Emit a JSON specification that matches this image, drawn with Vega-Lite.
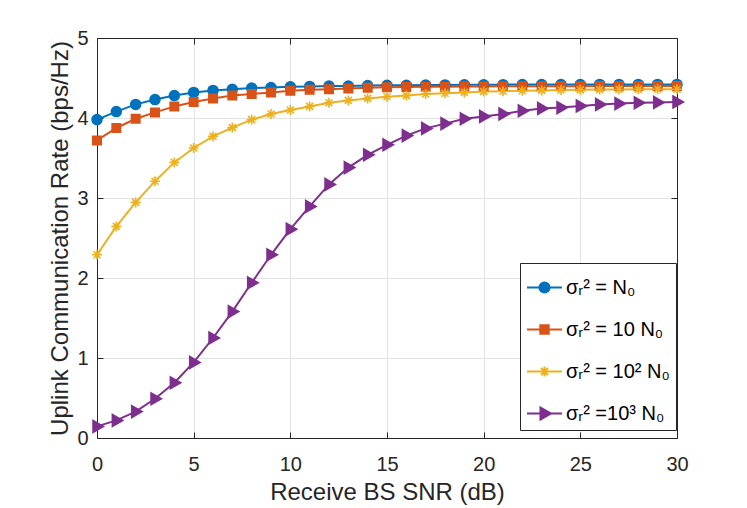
{
  "$schema": "https://vega.github.io/schema/vega-lite/v6.json",
  "autosize": "none",
  "width": 580,
  "height": 400,
  "padding": {"left": 97, "top": 38, "right": 70, "bottom": 70},
  "background": "white",
  "config": {
    "font": "Liberation Sans",
    "view": {"stroke": null},
    "axis": {
      "domainColor": "#262626",
      "tickColor": "#262626",
      "labelColor": "#262626",
      "titleColor": "#262626",
      "labelFont": "Liberation Sans",
      "titleFont": "Liberation Sans",
      "labelFontSize": 20,
      "titleFontSize": 24,
      "titleFontWeight": "normal",
      "labelFlush": false,
      "gridColor": "#e3e3e3",
      "gridOpacity": 1,
      "domainWidth": 1,
      "tickWidth": 1
    }
  },
  "data": {
    "values": [
      {"snr": 0, "rate": 3.98, "case": "N0"}, {"snr": 1, "rate": 4.08, "case": "N0"}, {"snr": 2, "rate": 4.17, "case": "N0"},
      {"snr": 3, "rate": 4.23, "case": "N0"}, {"snr": 4, "rate": 4.28, "case": "N0"}, {"snr": 5, "rate": 4.32, "case": "N0"},
      {"snr": 6, "rate": 4.345, "case": "N0"}, {"snr": 7, "rate": 4.36, "case": "N0"}, {"snr": 8, "rate": 4.375, "case": "N0"},
      {"snr": 9, "rate": 4.38, "case": "N0"}, {"snr": 10, "rate": 4.39, "case": "N0"}, {"snr": 11, "rate": 4.395, "case": "N0"},
      {"snr": 12, "rate": 4.40, "case": "N0"}, {"snr": 13, "rate": 4.40, "case": "N0"}, {"snr": 14, "rate": 4.405, "case": "N0"},
      {"snr": 15, "rate": 4.41, "case": "N0"}, {"snr": 16, "rate": 4.41, "case": "N0"}, {"snr": 17, "rate": 4.412, "case": "N0"},
      {"snr": 18, "rate": 4.414, "case": "N0"}, {"snr": 19, "rate": 4.415, "case": "N0"}, {"snr": 20, "rate": 4.416, "case": "N0"},
      {"snr": 21, "rate": 4.417, "case": "N0"}, {"snr": 22, "rate": 4.418, "case": "N0"}, {"snr": 23, "rate": 4.418, "case": "N0"},
      {"snr": 24, "rate": 4.419, "case": "N0"}, {"snr": 25, "rate": 4.419, "case": "N0"}, {"snr": 26, "rate": 4.42, "case": "N0"},
      {"snr": 27, "rate": 4.42, "case": "N0"}, {"snr": 28, "rate": 4.42, "case": "N0"}, {"snr": 29, "rate": 4.42, "case": "N0"},
      {"snr": 30, "rate": 4.42, "case": "N0"},
      {"snr": 0, "rate": 3.72, "case": "10N0"}, {"snr": 1, "rate": 3.875, "case": "10N0"}, {"snr": 2, "rate": 3.99, "case": "10N0"},
      {"snr": 3, "rate": 4.07, "case": "10N0"}, {"snr": 4, "rate": 4.145, "case": "10N0"}, {"snr": 5, "rate": 4.20, "case": "10N0"},
      {"snr": 6, "rate": 4.245, "case": "10N0"}, {"snr": 7, "rate": 4.28, "case": "10N0"}, {"snr": 8, "rate": 4.30, "case": "10N0"},
      {"snr": 9, "rate": 4.32, "case": "10N0"}, {"snr": 10, "rate": 4.34, "case": "10N0"}, {"snr": 11, "rate": 4.354, "case": "10N0"},
      {"snr": 12, "rate": 4.36, "case": "10N0"}, {"snr": 13, "rate": 4.37, "case": "10N0"}, {"snr": 14, "rate": 4.378, "case": "10N0"},
      {"snr": 15, "rate": 4.385, "case": "10N0"}, {"snr": 16, "rate": 4.388, "case": "10N0"}, {"snr": 17, "rate": 4.39, "case": "10N0"},
      {"snr": 18, "rate": 4.392, "case": "10N0"}, {"snr": 19, "rate": 4.394, "case": "10N0"}, {"snr": 20, "rate": 4.395, "case": "10N0"},
      {"snr": 21, "rate": 4.396, "case": "10N0"}, {"snr": 22, "rate": 4.397, "case": "10N0"}, {"snr": 23, "rate": 4.397, "case": "10N0"},
      {"snr": 24, "rate": 4.398, "case": "10N0"}, {"snr": 25, "rate": 4.398, "case": "10N0"}, {"snr": 26, "rate": 4.399, "case": "10N0"},
      {"snr": 27, "rate": 4.399, "case": "10N0"}, {"snr": 28, "rate": 4.40, "case": "10N0"}, {"snr": 29, "rate": 4.40, "case": "10N0"},
      {"snr": 30, "rate": 4.40, "case": "10N0"},
      {"snr": 0, "rate": 2.29, "case": "100N0"}, {"snr": 1, "rate": 2.645, "case": "100N0"}, {"snr": 2, "rate": 2.945, "case": "100N0"},
      {"snr": 3, "rate": 3.21, "case": "100N0"}, {"snr": 4, "rate": 3.445, "case": "100N0"}, {"snr": 5, "rate": 3.625, "case": "100N0"},
      {"snr": 6, "rate": 3.77, "case": "100N0"}, {"snr": 7, "rate": 3.88, "case": "100N0"}, {"snr": 8, "rate": 3.98, "case": "100N0"},
      {"snr": 9, "rate": 4.05, "case": "100N0"}, {"snr": 10, "rate": 4.10, "case": "100N0"}, {"snr": 11, "rate": 4.145, "case": "100N0"},
      {"snr": 12, "rate": 4.19, "case": "100N0"}, {"snr": 13, "rate": 4.22, "case": "100N0"}, {"snr": 14, "rate": 4.245, "case": "100N0"},
      {"snr": 15, "rate": 4.265, "case": "100N0"}, {"snr": 16, "rate": 4.28, "case": "100N0"}, {"snr": 17, "rate": 4.30, "case": "100N0"},
      {"snr": 18, "rate": 4.31, "case": "100N0"}, {"snr": 19, "rate": 4.32, "case": "100N0"}, {"snr": 20, "rate": 4.33, "case": "100N0"},
      {"snr": 21, "rate": 4.335, "case": "100N0"}, {"snr": 22, "rate": 4.34, "case": "100N0"}, {"snr": 23, "rate": 4.345, "case": "100N0"},
      {"snr": 24, "rate": 4.35, "case": "100N0"}, {"snr": 25, "rate": 4.352, "case": "100N0"}, {"snr": 26, "rate": 4.355, "case": "100N0"},
      {"snr": 27, "rate": 4.357, "case": "100N0"}, {"snr": 28, "rate": 4.358, "case": "100N0"}, {"snr": 29, "rate": 4.36, "case": "100N0"},
      {"snr": 30, "rate": 4.36, "case": "100N0"},
      {"snr": 0, "rate": 0.145, "case": "1000N0"}, {"snr": 1, "rate": 0.22, "case": "1000N0"}, {"snr": 2, "rate": 0.33, "case": "1000N0"},
      {"snr": 3, "rate": 0.49, "case": "1000N0"}, {"snr": 4, "rate": 0.69, "case": "1000N0"}, {"snr": 5, "rate": 0.945, "case": "1000N0"},
      {"snr": 6, "rate": 1.25, "case": "1000N0"}, {"snr": 7, "rate": 1.58, "case": "1000N0"}, {"snr": 8, "rate": 1.94, "case": "1000N0"},
      {"snr": 9, "rate": 2.29, "case": "1000N0"}, {"snr": 10, "rate": 2.61, "case": "1000N0"}, {"snr": 11, "rate": 2.895, "case": "1000N0"},
      {"snr": 12, "rate": 3.17, "case": "1000N0"}, {"snr": 13, "rate": 3.38, "case": "1000N0"}, {"snr": 14, "rate": 3.54, "case": "1000N0"},
      {"snr": 15, "rate": 3.665, "case": "1000N0"}, {"snr": 16, "rate": 3.78, "case": "1000N0"}, {"snr": 17, "rate": 3.87, "case": "1000N0"},
      {"snr": 18, "rate": 3.93, "case": "1000N0"}, {"snr": 19, "rate": 3.99, "case": "1000N0"}, {"snr": 20, "rate": 4.02, "case": "1000N0"},
      {"snr": 21, "rate": 4.05, "case": "1000N0"}, {"snr": 22, "rate": 4.09, "case": "1000N0"}, {"snr": 23, "rate": 4.12, "case": "1000N0"},
      {"snr": 24, "rate": 4.13, "case": "1000N0"}, {"snr": 25, "rate": 4.15, "case": "1000N0"}, {"snr": 26, "rate": 4.17, "case": "1000N0"},
      {"snr": 27, "rate": 4.18, "case": "1000N0"}, {"snr": 28, "rate": 4.19, "case": "1000N0"}, {"snr": 29, "rate": 4.195, "case": "1000N0"},
      {"snr": 30, "rate": 4.20, "case": "1000N0"}
    ]
  },
  "layer": [
    {
      "mark": {"type": "line", "strokeWidth": 2},
      "encoding": {
        "x": {
          "field": "snr", "type": "quantitative",
          "scale": {"domain": [0, 30], "nice": false},
          "axis": {"orient": "bottom", "values": [0, 5, 10, 15, 20, 25, 30], "grid": true, "tickSize": -6, "labelPadding": 22, "title": "Receive BS SNR (dB)", "titlePadding": 6}
        },
        "y": {
          "field": "rate", "type": "quantitative",
          "scale": {"domain": [0, 5], "nice": false},
          "axis": {"orient": "left", "values": [0, 1, 2, 3, 4, 5], "grid": true, "tickSize": -6, "labelPadding": 15, "title": "Uplink Communication Rate (bps/Hz)", "titlePadding": 4}
        },
        "color": {
          "field": "case", "type": "nominal",
          "scale": {"domain": ["N0", "10N0", "100N0", "1000N0"], "range": ["#0072BD", "#D95319", "#EDB120", "#7E2F8E"]},
          "legend": {
            "orient": "none", "legendX": 423, "legendY": 225,
            "title": null, "fillColor": "white", "strokeColor": "#262626",
            "padding": 6, "symbolSize": 1225, "symbolStrokeWidth": 2,
            "rowPadding": 13, "labelOffset": 3, "labelFontSize": 20, "labelColor": "#000000", "labelFont": "Liberation Sans",
            "labelExpr": "datum.value == 'N0' ? 'σᵣ² = N₀' : datum.value == '10N0' ? 'σᵣ² = 10 N₀' : datum.value == '100N0' ? 'σᵣ² = 10² N₀' : 'σᵣ² =10³ N₀'",
            "encode": {
              "symbols": {
                "update": {
                  "shape": {"signal": "datum.value == 'N0' ? 'M-1,0H1M-0.29,0A0.29,0.29 0 1,0 0.29,0A0.29,0.29 0 1,0 -0.29,0Z' : datum.value == '10N0' ? 'M-1,0H1M-0.24,-0.24H0.24V0.24H-0.24Z' : datum.value == '100N0' ? 'M-1,0H1M-0.29,0H0.29M0,-0.29V0.29M-0.2,-0.2L0.2,0.2M-0.2,0.2L0.2,-0.2' : 'M-1,0H1M-0.23,-0.34L0.37,0L-0.23,0.34Z'"},
                  "fill": {"scale": "color", "field": "value"},
                  "stroke": {"scale": "color", "field": "value"},
                  "strokeWidth": {"value": 2}
                }
              }
            }
          }
        }
      }
    },
    {
      "transform": [{"filter": "datum.case == 'N0'"}],
      "mark": {"type": "point", "size": 100, "strokeWidth": 1.5, "opacity": 1, "filled": true, "color": "#0072BD", "stroke": "#0072BD",
               "shape": "M-1,0A1,1 0 1,0 1,0A1,1 0 1,0 -1,0Z"},
      "encoding": {
        "x": {
          "field": "snr", "type": "quantitative",
          "axis": {"orient": "top", "values": [0, 5, 10, 15, 20, 25, 30], "grid": false, "labels": false, "tickSize": -6, "title": null}
        },
        "y": {
          "field": "rate", "type": "quantitative",
          "axis": {"orient": "right", "values": [0, 1, 2, 3, 4, 5], "grid": false, "labels": false, "tickSize": -6, "title": null}
        }
      }
    },
    {
      "transform": [{"filter": "datum.case == '10N0'"}],
      "mark": {"type": "point", "size": 100, "strokeWidth": 1.5, "opacity": 1, "filled": true, "color": "#D95319", "stroke": "#D95319",
               "shape": "M-0.85,-0.85H0.85V0.85H-0.85Z"},
      "encoding": {
        "x": {"field": "snr", "type": "quantitative", "axis": null},
        "y": {"field": "rate", "type": "quantitative", "axis": null}
      }
    },
    {
      "transform": [{"filter": "datum.case == '100N0'"}],
      "mark": {"type": "point", "size": 100, "strokeWidth": 1.6, "opacity": 1, "filled": true, "color": "#EDB120", "stroke": "#EDB120",
               "shape": "M-1,0H1M0,-1V1M-0.7,-0.7L0.7,0.7M-0.7,0.7L0.7,-0.7"},
      "encoding": {
        "x": {"field": "snr", "type": "quantitative", "axis": null},
        "y": {"field": "rate", "type": "quantitative", "axis": null}
      }
    },
    {
      "transform": [{"filter": "datum.case == '1000N0'"}],
      "mark": {"type": "point", "size": 100, "strokeWidth": 1.5, "opacity": 1, "filled": true, "color": "#7E2F8E", "stroke": "#7E2F8E",
               "shape": "M-0.8,-1.2L1.3,0L-0.8,1.2Z"},
      "encoding": {
        "x": {"field": "snr", "type": "quantitative", "axis": null},
        "y": {"field": "rate", "type": "quantitative", "axis": null}
      }
    }
  ],
  "resolve": {"axis": {"x": "independent", "y": "independent"}}
}
